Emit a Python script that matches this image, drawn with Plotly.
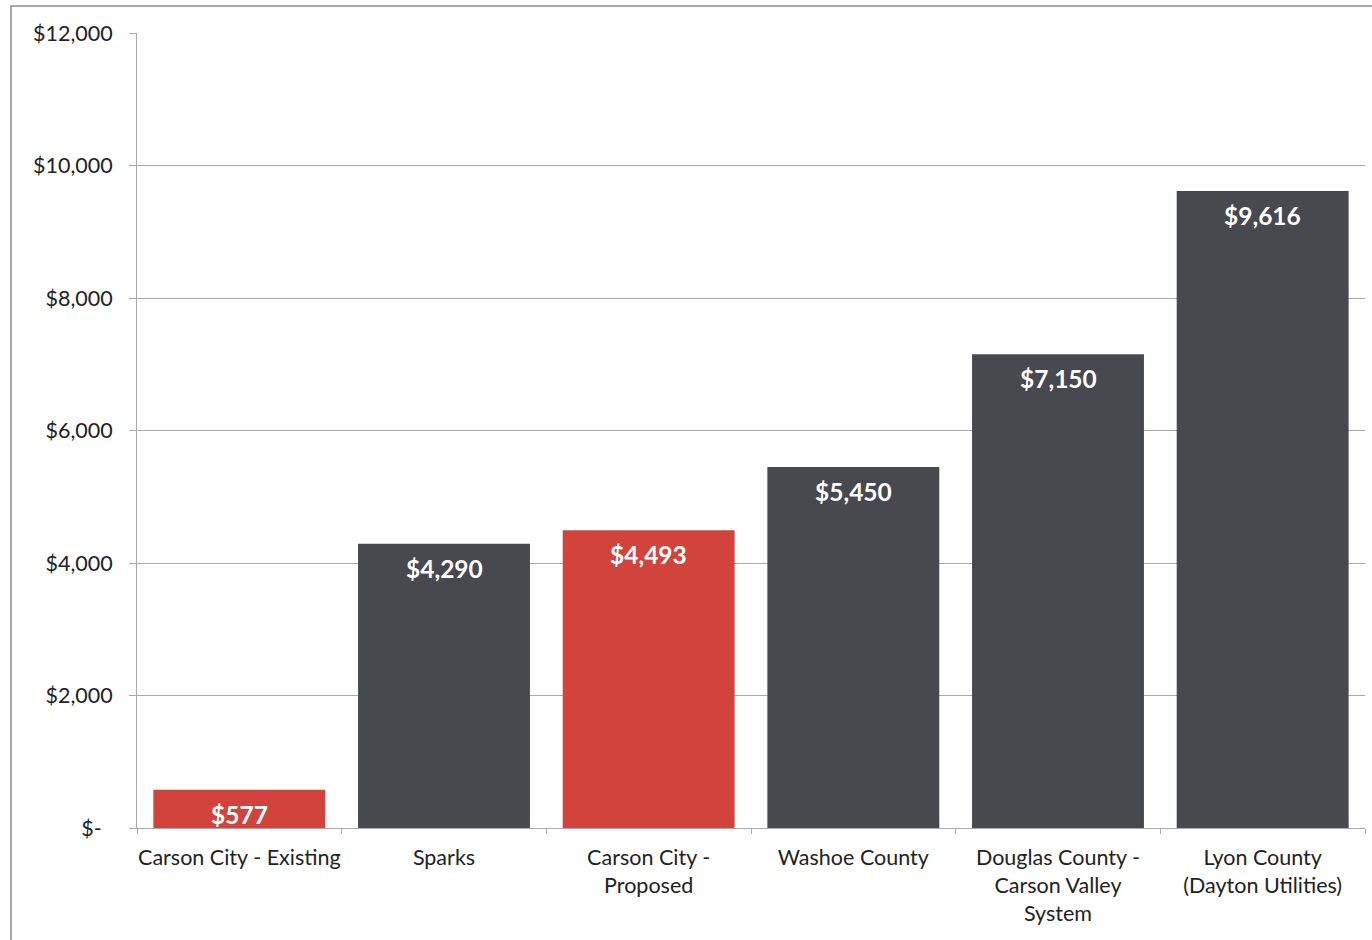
import plotly.graph_objects as go

categories = ["Carson City - Existing", "Sparks", "Carson City -<br>Proposed",
              "Washoe County", "Douglas County -<br>Carson Valley<br>System",
              "Lyon County<br>(Dayton Utilities)"]
values = [577, 4290, 4493, 5450, 7150, 9616]
labels = ["$577", "$4,290", "$4,493", "$5,450", "$7,150", "$9,616"]
highlight = [True, False, True, False, False, False]
tick_vals = [0, 2000, 4000, 6000, 8000, 10000, 12000]
tick_text = ["$-\u00a0\u00a0", "$2,000", "$4,000", "$6,000", "$8,000", "$10,000", "$12,000"]

RED = "#D1433B"
DARK = "#48484F"
colors = [RED if h else DARK for h in highlight]

fig = go.Figure(go.Bar(
    x=categories, y=values,
    marker=dict(color=colors, line=dict(width=0)),
))

for c, v, t in zip(categories, values, labels):
    fig.add_annotation(x=c, y=v, xref="x", yref="y", text=t, showarrow=False,
                       yanchor="top", yshift=-8,
                       font=dict(family="Lato", size=24.5, color="white", weight="bold"))

W, H = 1372, 940
L, R, T, B = 137, 7, 33, 112
fig.update_layout(
    width=W, height=H,
    margin=dict(l=L, r=R, t=T, b=B, pad=0, autoexpand=False),
    paper_bgcolor="white", plot_bgcolor="white",
    bargap=0.16, showlegend=False,
    font=dict(family="Lato", size=21.5, color="#222222"),
)
fig.update_yaxes(
    range=[0, 12000], tickvals=tick_vals, ticktext=tick_text,
    showgrid=True, gridcolor="#A8A8B0", gridwidth=1,
    showline=True, linecolor="#A8A8B0", linewidth=1,
    ticks="outside", ticklen=7, tickcolor="#A8A8B0",
    ticklabelstandoff=12, automargin=False,
    tickfont=dict(size=21.5, color="#222222"), zeroline=False,
)
fig.update_xaxes(
    showline=True, linecolor="#A8A8B0", linewidth=1,
    ticks="outside", ticklen=5, tickcolor="#A8A8B0", tickson="boundaries",
    ticklabelstandoff=10, tickangle=0, automargin=False,
    tickfont=dict(size=21.5, color="#222222"),
)
pw = W - L - R
ph = H - T - B
fig.add_shape(type="rect", xref="paper", yref="paper",
              x0=(11 - L) / pw, x1=(W + 20 - L) / pw,
              y0=-(H + 20 - T - ph) / ph, y1=1 + (T - 6) / ph,
              line=dict(color="#8A8A92", width=1.5), layer="below")
fig.write_html("out.html")
